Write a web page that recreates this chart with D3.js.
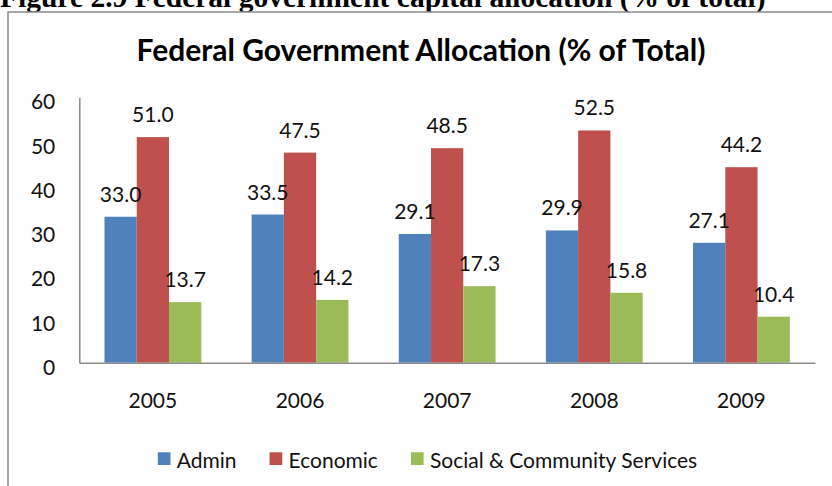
<!DOCTYPE html>
<html>
<head>
<meta charset="utf-8">
<script src="https://cdn.jsdelivr.net/npm/d3@7"></script>
<style>
  html, body { margin: 0; padding: 0; background: #fff; }
  svg { display: block; }
</style>
</head>
<body>
<svg id="chart" width="832" height="486"></svg>
<script>
// Data
const years = ["2005", "2006", "2007", "2008", "2009"];
const seriesNames = ["Admin", "Economic", "Social & Community Services"];
const admin = [33.0, 33.5, 29.1, 29.9, 27.1];
const economic = [51.0, 47.5, 48.5, 52.5, 44.2];
const social = [13.7, 14.2, 17.3, 15.8, 10.4];
const yTicks = [0, 10, 20, 30, 40, 50, 60];
const colors = ["#4F81BD", "#C0504D", "#9BBB59"];

const seriesValues = [admin, economic, social];
const rows = years.map((yr, i) => ({
  year: yr,
  values: seriesNames.map((s, k) => ({ series: s, k, value: seriesValues[k][i] }))
}));

const svg = d3.select("#chart");
const FONT = "Lato, 'Open Sans', sans-serif";
const FS = 21;

// Figure caption above the chart frame (partly clipped by the top edge)
svg.append("text")
  .attr("x", 0).attr("y", 7)
  .attr("font-family", "'Liberation Serif', 'Times New Roman', serif")
  .attr("font-weight", "bold")
  .attr("font-size", 29.5)
  .attr("fill", "#000")
  .text("Figure 2.9 Federal government capital allocation (% of total)");

// Chart frame
svg.append("rect")
  .attr("x", 8).attr("y", 12)
  .attr("width", 840).attr("height", 500)
  .attr("fill", "#fff")
  .attr("stroke", "#8c8c8c")
  .attr("stroke-width", 1.5);

// Chart title
svg.append("text")
  .attr("x", 421).attr("y", 61)
  .attr("text-anchor", "middle")
  .attr("font-family", FONT)
  .attr("font-weight", "bold")
  .attr("font-size", 30)
  .attr("fill", "#000")
  .text("Federal Government Allocation (% of Total)");

// Scales
const plot = { left: 79.3, right: 815, top: 97.3, bottom: 362.7 };
const x = d3.scaleBand().domain(years).range([plot.left, plot.right]).padding(0);
const xInner = d3.scaleBand().domain(d3.range(3))
  .range([0, x.bandwidth()]).paddingInner(0).paddingOuter(0.78);
const y = d3.scaleLinear().domain([0, 60]).range([plot.bottom, plot.top]);

// Bars
const groups = svg.append("g").selectAll("g")
  .data(rows).join("g")
  .attr("transform", d => `translate(${x(d.year)},0)`);

groups.selectAll("rect")
  .data(d => d.values).join("rect")
  .attr("x", d => xInner(d.k))
  .attr("y", d => y(d.value))
  .attr("width", xInner.bandwidth())
  .attr("height", d => y(0) - y(d.value))
  .attr("fill", d => colors[d.k]);

// Value labels
groups.selectAll("text")
  .data(d => d.values).join("text")
  .attr("x", d => xInner(d.k) + xInner.bandwidth() / 2)
  .attr("y", d => y(d.value) - 15)
  .attr("text-anchor", "middle")
  .attr("font-family", FONT)
  .attr("font-size", FS)
  .attr("fill", "#111")
  .text(d => d.value.toFixed(1));

// Y axis
const yAxis = svg.append("g")
  .attr("transform", `translate(${plot.left},0)`)
  .call(d3.axisLeft(y).tickValues(yTicks).tickSize(0).tickPadding(24).tickFormat(d3.format("d")));
yAxis.select(".domain").attr("stroke", "#8c8c8c").attr("stroke-width", 1.5);
yAxis.selectAll("text")
  .attr("font-family", FONT).attr("font-size", FS).attr("fill", "#111")
  .attr("dy", "0.55em");

// X axis
const xAxis = svg.append("g")
  .attr("transform", `translate(0,${plot.bottom})`)
  .call(d3.axisBottom(x).tickSize(0).tickPadding(30));
xAxis.select(".domain").attr("stroke", "#8c8c8c").attr("stroke-width", 1.5);
xAxis.selectAll("text")
  .attr("font-family", FONT).attr("font-size", FS).attr("fill", "#111");

// Legend
const legend = svg.append("g");
const items = legend.selectAll("g").data(seriesNames).join("g");
items.append("rect")
  .attr("width", 12.7).attr("height", 12.7)
  .attr("y", 452.3)
  .attr("fill", (d, i) => colors[i]);
items.append("text")
  .attr("x", 19).attr("y", 467.7)
  .attr("font-family", FONT).attr("font-size", FS).attr("fill", "#111")
  .text(d => d);
let cursor = 0;
items.each(function () {
  const g = d3.select(this);
  g.attr("transform", `translate(${cursor},0)`);
  const w = 19 + g.select("text").node().getComputedTextLength();
  cursor += w + 33;
});
const total = cursor - 33;
legend.attr("transform", `translate(${427.5 - total / 2},0)`);
</script>
</body>
</html>
